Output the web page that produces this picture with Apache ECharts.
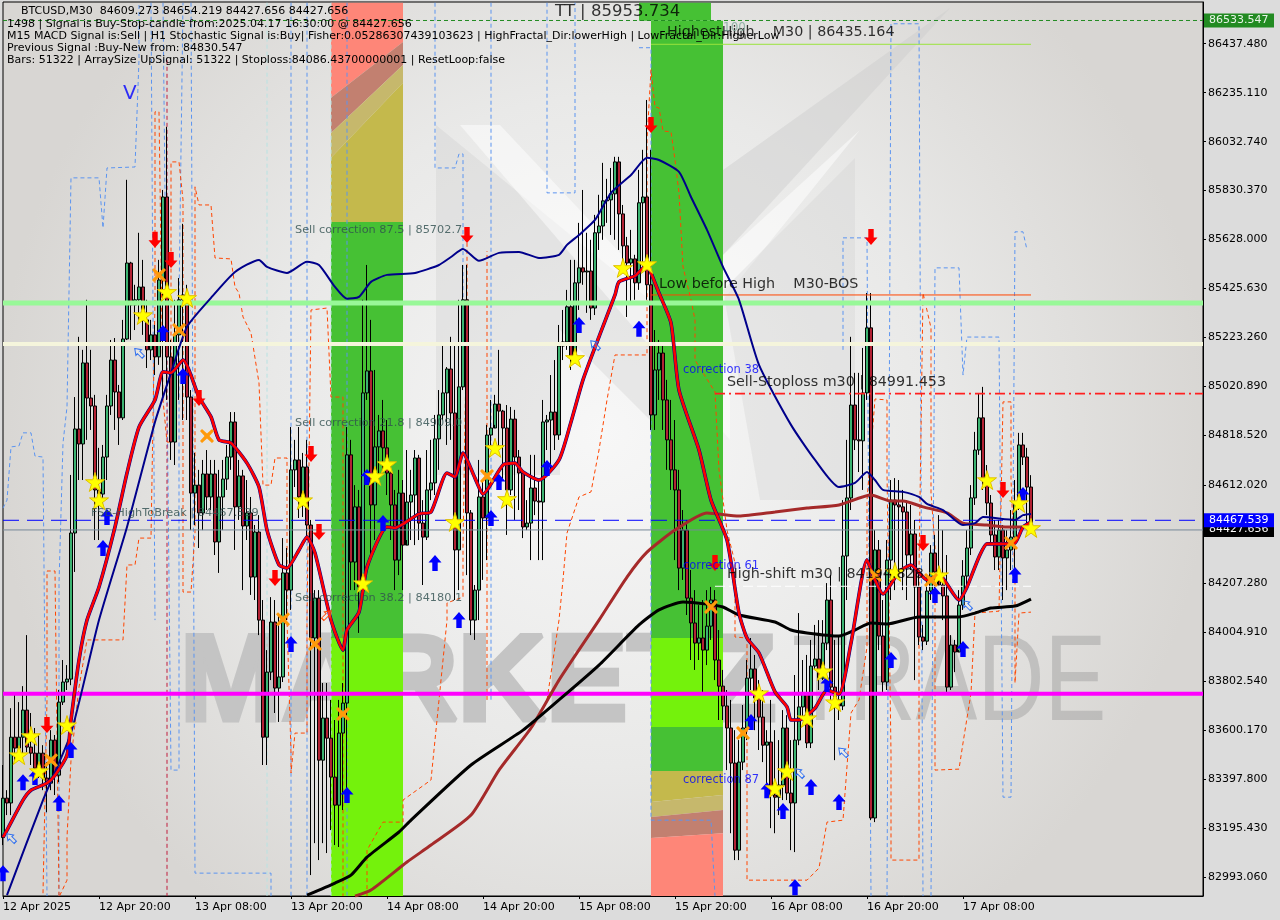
<!DOCTYPE html>
<html>
<head>
<meta charset="utf-8">
<title>BTCUSD M30</title>
<style>
html, body { margin: 0; padding: 0; background: #dcdcdc; }
#main { width: 1280px; height: 920px; }
</style>
<script src="https://cdn.jsdelivr.net/npm/echarts@6/dist/echarts.min.js"></script>
</head>
<body>
<div id="main"></div>
<script>
// bars. open of a bar = close of the bar before
const firstOpen = 83156;
const closes = [83319,83299,83571,83526,83571,83683,83530,83505,83443,83505,83402,83381,83559,83414,83716,83799,83811,84415,84845,84783,85118,84973,84940,84593,84576,84729,84940,85130,84998,84891,85217,85531,85358,85379,85432,85296,85172,85234,85143,85461,85804,85143,84791,85234,85379,85399,84977,84580,84613,84498,84659,84564,84659,84378,84564,84638,84729,84874,84523,84651,84444,84498,84233,84419,84055,83571,83840,84047,83774,83820,84250,84179,84676,84717,84564,84688,84448,83981,84146,83476,83650,83567,83406,83290,83588,83712,84738,84295,84523,84192,84994,85085,84531,84771,84837,84767,84663,84531,84303,84580,84365,84543,84572,84725,84456,84398,84593,84622,84804,84903,84994,85093,84911,84345,85019,85379,84498,84055,84179,84564,84477,84820,84849,84948,84919,84849,84593,84886,84729,84663,84440,84456,84601,84547,84543,84874,84882,84915,84820,85188,85205,85350,85143,85449,85511,85494,85498,85345,85656,85684,85788,85792,85817,85949,85734,85602,85531,85548,85449,85780,85804,85441,84903,85089,85159,84965,84800,84676,84593,84270,84427,84146,84043,83960,83981,83931,84030,84138,83890,83782,83700,83609,83464,83104,83468,83609,83815,83853,83733,83654,83538,83551,83332,83323,83373,83609,83340,83299,83559,83696,83753,83547,83865,83894,83815,83960,84138,83778,83725,83700,84320,84560,84944,84800,84796,84994,85263,83237,84345,83989,83799,84303,84551,84531,84523,84502,84324,84411,84192,83985,83968,84175,84332,84254,84200,84155,83778,83952,83923,84117,84237,84353,84560,84758,84891,84642,84539,84407,84316,84427,84312,84345,84398,84539,84779,84729,84605,84427.656];
const highs = [83456,83352,83691,83753,83716,83782,83993,83671,83609,83580,83538,83468,83600,83580,83766,83890,83869,84655,84977,85226,85172,85379,85172,84986,84767,84779,84986,85213,85221,85027,85296,85875,85536,85441,85656,85544,85379,85296,85275,85544,85833,86094,85213,85379,85469,85693,85441,85006,84746,84676,84717,84758,84717,84717,84676,84717,84779,84915,84915,84717,84676,84634,84564,84448,84489,84138,83931,84150,84138,84084,84394,84353,84853,84800,84853,84746,84800,84469,84179,84179,83795,83795,83725,83642,83725,83795,84853,84800,84613,84593,85379,85523,85296,85089,84903,84965,84882,84696,84593,84676,84634,84758,84676,84758,84738,84551,84758,84800,84903,85006,85192,85101,85226,85192,85379,85523,85523,84510,84200,84717,84634,84862,84965,84986,85172,84924,84944,84936,84924,84758,84676,84551,84738,84738,84634,84965,84903,85068,85130,85275,85337,85420,85544,85544,85697,85833,85656,85627,85730,85813,85945,85879,85924,85970,85970,85771,85639,85668,85565,85916,85999,86205,85999,85254,85213,85192,85048,84965,84882,84676,84510,84469,84262,84179,84117,84138,84179,84192,84179,84014,83849,83766,83725,83600,83559,83704,83890,83981,83911,83807,83766,83600,83725,83600,83559,83683,83662,83559,83828,84084,83890,83911,83973,84035,84055,84055,84208,84241,83973,83993,84551,84800,85226,85077,85077,85180,85407,85407,84427,84386,84138,84386,84634,84642,84634,84593,84551,84531,84469,84262,84035,84241,84365,84407,84489,84427,84324,83993,83973,84179,84303,84427,84613,84833,84990,85019,84696,84572,84469,84469,84448,84427,84510,84634,84829,84829,84767,84654.219];
const lows = [83125,83249,83249,83476,83497,83497,83509,83456,83381,83402,83352,83261,83352,83332,83385,83704,83766,83786,84254,84634,84634,84800,84841,84386,84386,84531,84634,84903,84841,84779,84882,85213,85213,85254,85296,85234,85097,85130,85068,85110,84965,84965,84717,84696,84965,84882,84882,84427,84448,84353,84427,84510,84510,84324,84250,84427,84593,84676,84345,84469,84179,84386,84159,84138,83993,83456,83456,83807,83671,83634,83799,84055,84097,84605,84477,84481,84386,83001,83133,83063,83133,83092,83187,83125,83117,83270,83352,84179,84179,84002,84138,84965,84303,84386,84634,84676,84572,84386,84179,84241,84179,84386,84386,84365,84386,84200,84386,84551,84572,84676,84882,84779,84800,84138,84179,85006,84241,83993,83973,84055,84221,84303,84779,84862,84758,84634,84407,84572,84469,84510,84394,84427,84303,84489,84303,84303,84758,84676,84758,84800,85130,85172,85089,85130,85337,85441,85325,85296,85316,85585,85627,85697,85647,85627,85585,85523,85308,85358,85379,85420,85503,85379,84841,84841,84965,84841,84676,84593,84303,84179,84221,84076,83890,83849,83890,83758,83869,83973,83807,83642,83642,83435,83174,83063,83063,83435,83559,83766,83600,83518,83468,83352,83195,83174,83249,83311,83311,83104,83096,83538,83642,83526,83526,83849,83766,83807,83931,83725,83476,83642,83683,84138,84510,84758,84667,84593,84965,83228,83220,83931,83758,83766,84138,84179,84241,84179,84138,84262,83807,83952,83931,83952,84138,84179,84221,84055,83758,83766,83840,83931,84097,84179,84324,84531,84738,84593,84489,84365,84262,84262,84138,84179,84262,84221,84510,84696,84427,84427.656];

// x axis, one label every 24 bars
const tickLabels = ['12 Apr 2025','12 Apr 20:00','13 Apr 08:00','13 Apr 20:00','14 Apr 08:00','14 Apr 20:00','15 Apr 08:00','15 Apr 20:00','16 Apr 08:00','16 Apr 20:00','17 Apr 08:00'];
const priceTicks = [86437.48,86235.11,86032.74,85830.37,85628,85425.63,85223.26,85020.89,84818.52,84612.02,84409.65,84207.28,84004.91,83802.54,83600.17,83397.8,83195.43,82993.06];

// moving averages as [bar, price]
const fastMA = [[0,83158],[1,83187],[5,83311],[7,83352],[11,83381],[13,83414],[16,83497],[17,83642],[19,83890],[21,84055],[24,84192],[28,84440],[31,84663],[34,84853],[38,84965],[40,85081],[42,85077],[45,85130],[49,84977],[52,84895],[54,84800],[57,84787],[61,84704],[64,84605],[66,84427],[69,84283],[71,84270],[74,84345],[76,84398],[78,84332],[82,84055],[85,83931],[86,84014],[89,84088],[91,84274],[96,84440],[98,84436],[100,84452],[104,84494],[107,84502],[111,84663],[113,84647],[115,84746],[118,84642],[120,84576],[125,84696],[128,84704],[130,84667],[134,84634],[139,84717],[142,84874],[145,85048],[149,85226],[153,85399],[154,85453],[158,85478],[161,85523],[162,85490],[164,85407],[167,85283],[169,85006],[174,84758],[177,84551],[181,84386],[184,84084],[186,83981],[189,83919],[193,83758],[196,83696],[197,83642],[199,83642],[203,83691],[206,83766],[209,83749],[212,83960],[216,84303],[218,84221],[220,84163],[224,84254],[227,84283],[231,84221],[234,84241],[239,84138],[241,84192],[244,84316],[246,84370],[250,84370],[253,84374],[255,84440],[257,84460]];
const slowMA = [[1,82918],[10,83311],[17,83588],[24,84055],[31,84440],[38,84874],[42,85077],[46,85267],[52,85387],[58,85494],[64,85544],[66,85515],[71,85490],[76,85536],[79,85523],[83,85432],[86,85383],[89,85391],[92,85453],[96,85482],[103,85490],[109,85523],[112,85556],[115,85589],[119,85540],[124,85573],[129,85577],[134,85552],[139,85565],[141,85606],[144,85647],[148,85709],[152,85821],[157,85895],[161,85966],[164,85957],[169,85908],[172,85804],[176,85668],[180,85515],[184,85379],[189,85110],[197,84862],[203,84717],[209,84605],[213,84622],[216,84667],[218,84634],[220,84593],[225,84585],[229,84564],[231,84535],[235,84510],[240,84448],[243,84456],[245,84481],[253,84469],[255,84489],[257,84494]];
const brownMA = [[88,82914],[92,82939],[101,83055],[107,83125],[117,83249],[124,83435],[132,83609],[139,83807],[149,84055],[156,84233],[161,84336],[168,84427],[176,84498],[184,84485],[193,84502],[201,84518],[209,84531],[217,84572],[222,84547],[225,84547],[230,84523],[236,84498],[240,84456],[246,84448],[251,84440],[257,84440]];
const blackMA = [[76,82918],[83,82968],[87,83001],[91,83075],[99,83179],[102,83228],[117,83456],[130,83600],[139,83725],[149,83869],[159,84035],[164,84097],[170,84130],[176,84121],[180,84109],[184,84076],[193,84047],[197,84014],[201,84002],[209,83989],[213,84014],[217,84043],[221,84039],[229,84068],[239,84068],[243,84084],[247,84105],[253,84113],[257,84142]];

// dashed channels
const blueSteps = [
  [[0,84518],[1,84551],[2,84771],[4,84775],[5,84829],[7,84829],[8,84733],[10,84729],[11,82914]],
  [[14,82914],[14,84208],[15,84787],[16,84936],[17,85883],[24,85883],[25,85676],[26,85924],[33,85928],[34,86371],[34,86607]],
  [[37,86607],[38,84055]],
  [[40,86607],[42,83435],[44,83435],[44,85379],[45,86607]],
  [[47,86607],[48,83009],[67,83009],[67,82914]],
  [[72,86607],[72,82914]],
  [[76,86607],[76,82914]],
  [[86,86607],[86,82914]],
  [[108,86607],[108,85924],[113,85924],[114,85982],[115,85982],[115,85379]],
  [[122,86607],[122,83725]],
  [[136,86607],[136,85821],[143,85821],[143,86607]],
  [[159,86421],[162,86421],[162,83228],[177,83228],[178,82914]],
  [[210,85172],[210,85635],[216,85635],[217,82914]],
  [[221,82914],[222,86520],[229,86520],[230,82914]],
  [[232,82914],[233,85511],[239,85511],[240,85068],[241,85225],[249,85225],[250,83323],[252,83323],[253,85660],[255,85660],[256,85585]]
];
const cyanSteps = [[[66,86607],[66,82914]],[[82,86607],[82,82914]]];
const orangeSteps = [
  [[10,82926],[11,83725],[11,84258],[13,84258],[14,82910],[16,82980],[16,83158],[17,83476],[19,83778],[21,83973],[30,83973],[31,84283],[33,84283],[34,84394],[37,84394],[38,85379],[38,86156],[39,86156],[40,84965],[41,84791],[42,84791],[42,85949],[44,85949],[45,85792],[45,84171],[47,84171],[48,84415],[48,85846],[49,85771],[52,85771],[53,85552],[57,85548],[58,85432],[59,85407],[60,85308],[62,85242],[64,85035],[65,84613],[67,84613],[68,84725],[71,84725],[71,84055],[72,83505],[72,83423],[73,83588],[76,83588],[76,84055],[77,85337],[81,85345],[82,84977],[85,84977],[85,82914]],
  [[91,82914],[91,83104],[95,83220],[100,83220],[100,83311],[107,83394],[111,84055],[111,84126],[115,84150],[115,84357],[116,85379],[116,85627]],
  [[121,83725],[121,85379],[121,85580]],
  [[136,83725],[139,84055],[140,84221],[141,84415],[144,84564],[147,84585],[149,84758],[151,84965],[153,85151],[161,85151],[161,86040],[162,86330],[163,86177],[164,86172],[165,86077],[167,86073],[168,85957],[169,85821],[170,85515],[172,85379],[173,85296],[173,85130],[178,84998],[179,84676],[180,84551],[181,84427],[183,84291],[183,83985],[186,83981],[186,82980],[201,82980],[204,83030],[206,83220],[210,83228],[212,83671],[214,83725],[216,83944],[216,84551],[218,84969],[221,84965],[221,84663],[222,83505],[222,83063],[229,83063],[229,84262],[230,85407],[232,85263],[232,84580],[233,84357],[233,83435],[239,83439],[240,83547],[242,83753],[243,84084],[249,84092],[250,84957],[252,84957],[252,84634],[253,84233],[253,83795],[254,84084],[257,84088]]
];
const crimsonStep = [[41,86371],[41,82914]];

// signal marks as [bar, price]
const upArrows = [[5,83385],[8,83406],[14,83299],[17,83518],[0,83009],[26,84481],[25,84353],[40,85242],[45,85064],[72,83956],[86,83332],[91,84647],[95,84456],[108,84291],[114,84055],[122,84477],[124,84626],[136,84684],[144,85275],[159,85259],[187,83634],[191,83352],[195,83266],[202,83365],[206,83791],[209,83303],[198,82951],[222,83890],[233,84159],[240,83935],[253,84241],[255,84572]];
const downArrows = [[38,85627],[42,85544],[116,85647],[162,86102],[217,85639],[49,84973],[77,84742],[79,84419],[68,84229],[11,83621],[178,84291],[230,84374],[250,84593]];
const stars = [[4,83497],[7,83576],[9,83431],[16,83621],[23,84626],[24,84551],[35,85316],[46,85387],[41,85412],[75,84551],[90,84208],[93,84651],[96,84700],[113,84461],[123,84767],[126,84556],[143,85139],[155,85511],[161,85527],[189,83753],[201,83650],[205,83844],[208,83716],[196,83431],[193,83361],[223,84254],[234,84241],[246,84634],[254,84539],[257,84436]];
const crosses = [[12,83476],[39,85482],[44,85254],[51,84816],[70,84059],[78,83956],[85,83667],[121,84651],[177,84109],[185,83588],[218,84241],[232,84221],[252,84374]];
const hollowArrows = [[2,83154],[34,85160],[148,85192],[210,83509],[199,83423],[241,84117]];
const hollowRed = [[81,84076]];

// price levels
const topDash = 86533.547, highestHigh = 86435.164, lowBeforeHigh = 85399, limeLevel = 85366, beigeLevel = 85196;
const stopLoss = 84991.453, fsbLevel = 84467.539, bidLevel = 84427.656, highShift = 84194.828, magentaLevel = 83751;

// fib zones: bar from, bar to, top left, top right, bottom left, bottom right, colour name
const zones = [
  [82,100,86607,86607,86214,86445,'red'],
  [82,100,86214,86445,86069,86350,'brown'],
  [82,100,86069,86350,85966,86276,'tan'],
  [82,100,85966,86276,85701,85701,'yellow'],
  [82,100,85701,85701,83981,83981,'green'],
  [82,100,83981,83981,82914,82914,'lime'],
  [159,177,86607,86607,86532,86532,'green'],
  [162,180,86532,86532,83981,83981,'green'],
  [162,180,83981,83981,83613,83613,'lime'],
  [162,180,83613,83613,83431,83431,'green'],
  [162,180,83431,83431,83303,83332,'yellow'],
  [162,180,83303,83332,83241,83270,'tan'],
  [162,180,83241,83270,83154,83174,'brown'],
  [162,180,83154,83174,82914,82914,'red']
];
const zoneColors = { red:'#fe8678', brown:'#c28070', tan:'#c6b86c', yellow:'#c4b94c', green:'#46c134', lime:'#74f20c' };

// texts tied to a bar and a price
const bigNotes = [[166,86483,'HighestHigh    M30 | 86435.164'],[164,85445,'Low before High    M30-BOS'],[181,85039,'Sell-Stoploss m30 | 84991.453'],[181,84245,'High-shift m30 | 84194.828']];
const greyNotes = [[73,85668,'Sell correction 87.5 | 85702.7'],[73,84870,'Sell correction 21.8 | 84909.0'],[73,84146,'Sell correction 38.2 | 84180.1'],[22,84498,'FSB-HighToBreak | 84467.539']];
const blueNotes = [[170,85089,'correction 38'],[170,84279,'correction 61'],[170,83394,'correction 87']];
const topNote = [[138,86570,'TT | 85953.734']];
const vNote = [[30,86230,'V']];
const pctNote = [[180,86503,'100']];
const infoLines = [
  'BTCUSD,M30  84609.273 84654.219 84427.656 84427.656',
  '1498 | Signal is Buy-Stop-candle from:2025.04.17 16:30:00 @ 84427.656',
  'M15 MACD Signal is:Sell | H1 Stochastic Signal is:Buy| Fisher:0.05286307439103623 | HighFractal_Dir:lowerHigh | LowFractal_Dir:HigherLow',
  'Previous Signal :Buy-New from: 84830.547',
  'Bars: 51322 | ArraySize UpSignal: 51322 | Stoploss:84086.43700000001 | ResetLoop:false'
];
// right side price tags, black first so blue sits on it
const priceTags = [[topDash,'#228b22','#e8f4e8'],[bidLevel,'#000000','#ffffff'],[fsbLevel,'#0000ff','#ffffff']];

const FONT = 'DejaVu Sans';
const BARS = 301;
const categories = [];
for (let i = 0; i < BARS; i++) categories.push(i % 24 === 0 ? (tickLabels[i / 24] || '') : '');
const candles = closes.map((c, i) => [i ? closes[i - 1] : firstOpen, c, lows[i], highs[i]]);

const UP = 'path://M6 0 L12 6.5 L8.5 6.5 L8.5 14 L3.5 14 L3.5 6.5 L0 6.5 Z';
const DOWN = 'path://M3.5 0 L8.5 0 L8.5 7.5 L12 7.5 L6 14 L0 7.5 L3.5 7.5 Z';
const STAR = 'path://M50 0 L61 35 L98 35 L68 57 L79 91 L50 70 L21 91 L32 57 L2 35 L39 35 Z';
const CROSS = 'path://M2 0 L7 4.5 L12 0 L14 2 L9.5 7 L14 12 L12 14 L7 9.5 L2 14 L0 12 L4.5 7 L0 2 Z';

function line(data, color, width, type, z, smooth) {
  return { type:'line', data:data, symbol:'none', silent:true, smooth:smooth || false, z:z,
    lineStyle:{ color:color, width:width, type:type || 'solid' } };
}
function level(price, from, to, color, width, type) {
  return line([[from, price], [to, price]], color, width, type, 6);
}
function marks(data, symbol, size, color, border, rotate) {
  return { type:'scatter', data:data, symbol:symbol, symbolSize:size, symbolRotate:rotate || 0, z:8, silent:true,
    itemStyle:{ color:color, borderColor:border || color, borderWidth:border ? 1 : 0, opacity:1 } };
}
function notes(data, size, color) {
  return { type:'scatter', symbolSize:0, z:9, silent:true,
    data:data.map(d => ({ value:[d[0], d[1]], name:d[2] })),
    label:{ show:true, position:'right', distance:0, formatter:'{b}', fontFamily:FONT, fontSize:size, color:color } };
}

const logoFill = 'rgba(205,205,205,0.45)', logoLight = 'rgba(255,255,255,0.5)';
function poly(points, fill) {
  return { type:'polygon', silent:true, z:0, shape:{ points:points }, style:{ fill:fill } };
}
const graphicEls = [
  poly([[436,125],[436,475],[560,475],[560,330],[650,420],[650,300]], 'rgba(205,205,205,0.35)'),
  poly([[723,170],[950,8],[723,255]], logoFill),
  poly([[723,255],[860,130],[723,300]], logoLight),
  poly([[723,290],[855,158],[855,500],[760,500]], 'rgba(205,205,205,0.3)'),
  poly([[460,125],[500,125],[730,370],[730,440]], logoLight),
  { type:'text', silent:true, z:0, x:180, y:625, style:{ text:'MARKETZ', font:'bold 122px "Liberation Sans", sans-serif', fill:'#c4c4c4', stroke:'#c4c4c4', lineWidth:5 } },
  { type:'text', silent:true, z:0, x:792, y:625, scaleX:0.76, style:{ text:'TRADE', font:'122px "Liberation Sans", sans-serif', fill:'rgba(150,150,150,0.42)' } },
  { type:'text', silent:true, z:100, x:21, y:6, style:{ text:infoLines[0], font:'11px "DejaVu Sans"', fill:'#000' } }
];
infoLines.slice(1).forEach((t, i) => {
  graphicEls.push({ type:'text', silent:true, z:100, x:7, y:19 + i * 12, style:{ text:t, font:'11px "DejaVu Sans"', fill:'#000' } });
});

const myChart = echarts.init(document.getElementById('main'), null, { renderer:'canvas' });
myChart.setOption({
  animation:false,
  backgroundColor:'#dcdcdc',
  graphic:{ elements:graphicEls },
  grid:{ left:2, right:77, top:2, bottom:24, show:true, borderColor:'#000', borderWidth:1,
    backgroundColor:new echarts.graphic.RadialGradient(0.5, 0.48, 0.68, [
      { offset:0, color:'#f7f7f7' }, { offset:0.55, color:'#e9e9e8' }, { offset:1, color:'#d8d6d3' }]) },
  xAxis:{ type:'category', data:categories, boundaryGap:false,
    axisLine:{ lineStyle:{ color:'#000' } },
    axisTick:{ length:3, interval:i => i % 24 === 0 && i <= 240, lineStyle:{ color:'#000' } },
    axisLabel:{ interval:i => i % 24 === 0, align:'left', margin:6, color:'#000', fontFamily:FONT, fontSize:11, hideOverlap:false },
    splitLine:{ show:false } },
  yAxis:{ type:'value', position:'right', min:82914.5, max:86610, scale:true,
    axisLine:{ show:true, lineStyle:{ color:'#000' } },
    axisTick:{ show:true, length:3, customValues:priceTicks, lineStyle:{ color:'#000' } },
    axisLabel:{ customValues:priceTicks, formatter:v => v.toFixed(3), margin:5, color:'#000', fontFamily:FONT, fontSize:11 },
    splitLine:{ show:false } },
  series:[
    { type:'custom', z:1, silent:true, clip:true, data:zones.map((z, i) => [z[0], z[2], i]),
      encode:{ x:0, y:1 },
      renderItem:function (params, api) {
        const z = zones[api.value(2)];
        return { type:'polygon',
          shape:{ points:[api.coord([z[0], z[2]]), api.coord([z[1], z[3]]), api.coord([z[1], z[5]]), api.coord([z[0], z[4]])] },
          style:{ fill:zoneColors[z[6]] } };
      } },
    ...blueSteps.map(d => line(d, '#5b94f0', 1, [4, 3], 2)),
    ...cyanSteps.map(d => line(d, '#b8e2e2', 1, [4, 3], 2)),
    ...orangeSteps.map(d => line(d, '#ff4500', 1, [4, 3], 2)),
    line(crimsonStep, '#c01c3c', 1, [4, 3], 2),
    { type:'candlestick', data:candles, barWidth:4, z:3, silent:true,
      itemStyle:{ color:'#3cb371', color0:'#b22234', borderColor:'#000', borderColor0:'#000', borderWidth:1 } },
    level(topDash, 0, 300, '#228b22', 1, [4, 3]),
    level(highestHigh, 162, 257, '#9be33c', 1),
    level(lowBeforeHigh, 162, 257, '#ff4500', 1),
    level(limeLevel, 0, 300, '#98f898', 5),
    level(beigeLevel, 0, 300, '#f5f5dc', 4),
    level(stopLoss, 178, 300, '#ff2020', 1.8, [10, 4, 2, 4]),
    level(fsbLevel, 0, 300, '#0000ff', 1, [16, 8]),
    level(bidLevel, 0, 300, '#778899', 1),
    level(highShift, 178, 257, '#ffffff', 1, [10, 4]),
    level(magentaLevel, 0, 300, '#ff00ff', 4),
    line(brownMA, '#a52a2a', 3, 'solid', 7, 0.2),
    line(blackMA, '#000000', 3, 'solid', 7, 0.2),
    line(slowMA, '#00008b', 2, 'solid', 7, 0.2),
    line(fastMA, '#00008b', 3.6, 'solid', 7, 0.2),
    line(fastMA, '#ff0000', 2.6, 'solid', 7, 0.2),
    marks(upArrows, UP, [13, 16], '#0000ff'),
    marks(downArrows, DOWN, [13, 16], '#ff0000'),
    marks(stars, STAR, 19, '#ffff00', '#e0c000'),
    marks(crosses, CROSS, 14, '#ff9a0a'),
    marks(hollowArrows, UP, [8, 12], 'rgba(255,255,255,0.2)', '#2a6cf0', 45),
    marks(hollowRed, UP, [8, 12], 'rgba(255,255,255,0.2)', '#ff4500', -45),
    notes(bigNotes, 14.3, '#000'),
    notes(greyNotes, 11.3, '#2f4f4f'),
    notes(blueNotes, 11.5, '#0000ff'),
    notes(topNote, 16.5, '#000'),
    notes(vNote, 20, '#0000ff'),
    notes(pctNote, 12, '#7da89a'),
    { type:'custom', z:10, silent:true, clip:false, data:priceTags.map((t, i) => [0, t[0], i]),
      encode:{ x:0, y:1 },
      renderItem:function (params, api) {
        const t = priceTags[api.value(2)];
        const y = api.coord([0, t[0]])[1];
        return { type:'group', children:[
          { type:'rect', shape:{ x:1204, y:y - 7, width:70, height:14 }, style:{ fill:t[1] } },
          { type:'text', x:1209, y:y - 6, style:{ text:t[0].toFixed(3), font:'11px "DejaVu Sans"', fill:t[2] } }
        ] };
      } }
  ]
});
</script>
</body>
</html>
